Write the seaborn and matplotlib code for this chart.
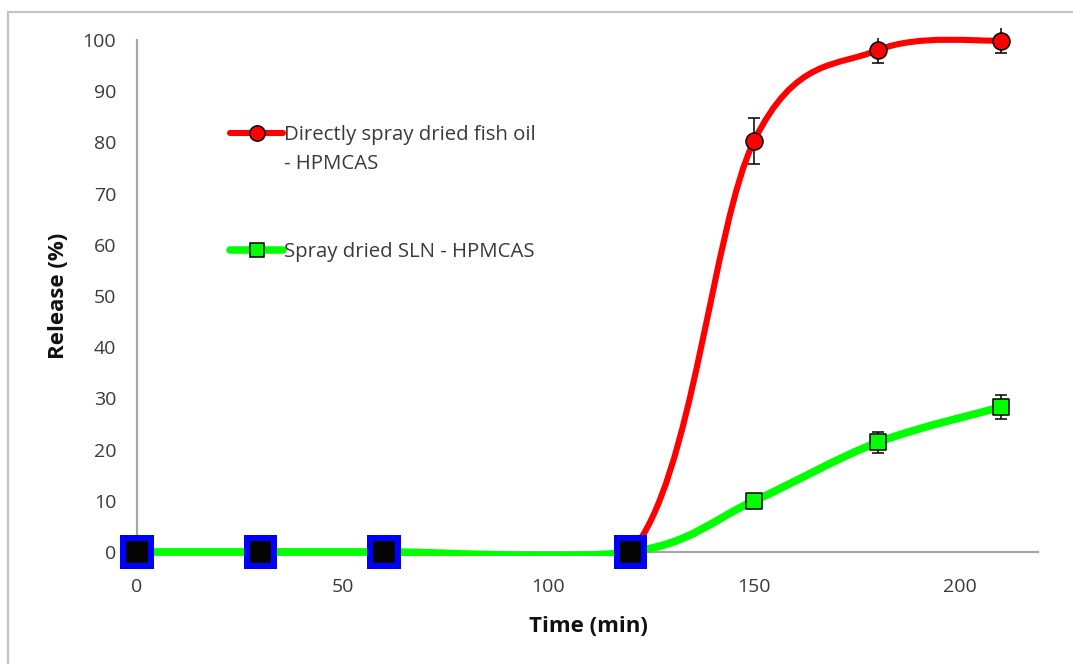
import numpy as np
import pandas as pd
import matplotlib
matplotlib.use("Agg")
import matplotlib.pyplot as plt
import seaborn as sns
from matplotlib.path import Path
from matplotlib.patches import PathPatch, Rectangle
from matplotlib.lines import Line2D

# ---------------- data ----------------
time_min = [0, 30, 60, 120, 150, 180, 210]
fish_release = [0, 0, 0, 0, 80.3, 98.0, 99.9]
fish_err = [0, 0, 0, 0, 4.5, 2.4, 2.5]
sln_release = [0, 0, 0, 0, 10.0, 21.4, 28.3]
sln_err = [0, 0, 0, 0, 1.0, 2.0, 2.4]

base_time = [0, 30, 60, 120]
base_release = [0, 0, 0, 0]

x_ticks = [0, 50, 100, 150, 200]
y_ticks = [0, 10, 20, 30, 40, 50, 60, 70, 80, 90, 100]

label_fish = ["Directly spray dried fish oil", "- HPMCAS"]
label_sln = "Spray dried SLN - HPMCAS"

# ---------------- style ----------------
sns.set_theme(style="white")
plt.rcParams['font.family'] = ['Open Sans', 'DejaVu Sans']
TXT = '#3a3a3a'
AX = '#a6a6a6'

W, H = 1073, 664
fig = plt.figure(figsize=(W / 100, H / 100), dpi=100)
ax = fig.add_axes([137 / W, 1 - 552 / H, (1038 - 137) / W, (552 - 40) / H])
ax.set_xlim(0, 219)
ax.set_ylim(0, 100)


def smooth_path(x, y):
    p = np.column_stack([x, y]).astype(float)
    n = len(p)
    t = np.zeros_like(p)
    for i in range(n):
        t[i] = (p[min(i + 1, n - 1)] - p[max(i - 1, 0)]) / 2
    verts = [p[0]]
    codes = [Path.MOVETO]
    for i in range(n - 1):
        verts += [p[i] + t[i] / 3, p[i + 1] - t[i + 1] / 3, p[i + 1]]
        codes += [Path.CURVE4] * 3
    return Path(verts, codes)


# plot-area clip (slightly below the zero line, like the original chart)
clip_rect = Rectangle((-0.02, -3.5 / 512), 1.04, 1.05, transform=ax.transAxes,
                      facecolor='none', edgecolor='none')
ax.add_patch(clip_rect)

red_line = PathPatch(smooth_path(time_min, fish_release), fill=False,
                     edgecolor='#ff0000', lw=4.4, capstyle='butt', zorder=2)
green_line = PathPatch(smooth_path(time_min, sln_release), fill=False,
                       edgecolor='#00ff00', lw=5.6, capstyle='butt', zorder=2.1)
for ln in (red_line, green_line):
    ax.add_patch(ln)
    ln.set_clip_path(clip_rect)

# error bars
ax.errorbar(time_min[4:], fish_release[4:], yerr=fish_err[4:], fmt='none',
            ecolor='black', elinewidth=1.1, capsize=4, capthick=1.1, zorder=3)
ax.errorbar(time_min[4:], sln_release[4:], yerr=sln_err[4:], fmt='none',
            ecolor='black', elinewidth=1.1, capsize=4, capthick=1.1, zorder=3)

# markers
df_fish = pd.DataFrame({'t': time_min[4:], 'r': fish_release[4:]})
df_sln = pd.DataFrame({'t': time_min[4:], 'r': sln_release[4:]})
df_base = pd.DataFrame({'t': base_time, 'r': base_release})
sns.scatterplot(data=df_fish, x='t', y='r', marker='o', s=150, color='#ff0000',
                edgecolor='black', linewidth=1.1, ax=ax, zorder=4)
sns.scatterplot(data=df_sln, x='t', y='r', marker='s', s=130, color='#00ff00',
                edgecolor='black', linewidth=1.1, ax=ax, zorder=4)
sns.scatterplot(data=df_base, x='t', y='r', marker='s', s=580, color='#0000ff',
                edgecolor='none', linewidth=0, ax=ax, zorder=5)
sns.scatterplot(data=df_base, x='t', y='r', marker='s', s=240, color='#050505',
                edgecolor='none', linewidth=0, ax=ax, zorder=6)
for c in ax.collections:
    c.set_clip_on(False)

# axes styling
ax.set_xticks(x_ticks)
ax.set_yticks(y_ticks)
ax.set_xticklabels([str(v) for v in x_ticks])
ax.set_yticklabels([str(v) for v in y_ticks])
for s in ['top', 'right']:
    ax.spines[s].set_visible(False)
for s in ['left', 'bottom']:
    ax.spines[s].set_color(AX)
    ax.spines[s].set_linewidth(1.6)
    ax.spines[s].set_zorder(1)
ax.tick_params(axis='both', which='major', direction='out', length=4.5, width=1.2,
               color=AX, labelsize=14, labelcolor=TXT)
ax.tick_params(axis='y', pad=10.5)
ax.tick_params(axis='x', pad=14)
ax.grid(False)
ax.set_facecolor('white')

ax.set_xlabel('Time (min)', fontsize=16, fontweight='bold', color='#111111')
ax.set_ylabel('Release (%)', fontsize=16, fontweight='bold', color='#111111')
ax.xaxis.set_label_coords((588 - 137) / 901, (552 - 616) / 512)
ax.yaxis.set_label_coords((69 - 137) / 901, 0.5)

# legends
h_red = Line2D([], [], color='#ff0000', lw=4.4, marker='o', markersize=11,
               markerfacecolor='#ff0000', markeredgecolor='black', markeredgewidth=1.1)
h_blank = Line2D([], [], color='none', lw=0)
h_green = Line2D([], [], color='#00ff00', lw=5.4, marker='s', markersize=10,
                 markerfacecolor='#00ff00', markeredgecolor='black', markeredgewidth=1.1)

fs = 14.7
leg1 = ax.legend([h_red, h_blank], label_fish, loc='upper left',
                 bbox_to_anchor=(230 / W, 1 - 125 / H), bbox_transform=fig.transFigure,
                 frameon=False, fontsize=fs, handlelength=2.6, handletextpad=0.05,
                 borderpad=0, borderaxespad=0, labelspacing=0.42, labelcolor=TXT)
ax.add_artist(leg1)
leg2 = ax.legend([h_green], [label_sln], loc='center left',
                 bbox_to_anchor=(230 / W, 1 - 252 / H), bbox_transform=fig.transFigure,
                 frameon=False, fontsize=fs, handlelength=2.6, handletextpad=0.05,
                 borderpad=0, borderaxespad=0, labelcolor=TXT)

# outer chart frame
fig.patches.append(Rectangle((8 / W, -0.1), 1.2, 1 - 12 / H + 0.1, transform=fig.transFigure,
                             fill=False, edgecolor='#c4c4c4', lw=1.6))

fig.savefig('out.png', dpi=100, facecolor='white')
